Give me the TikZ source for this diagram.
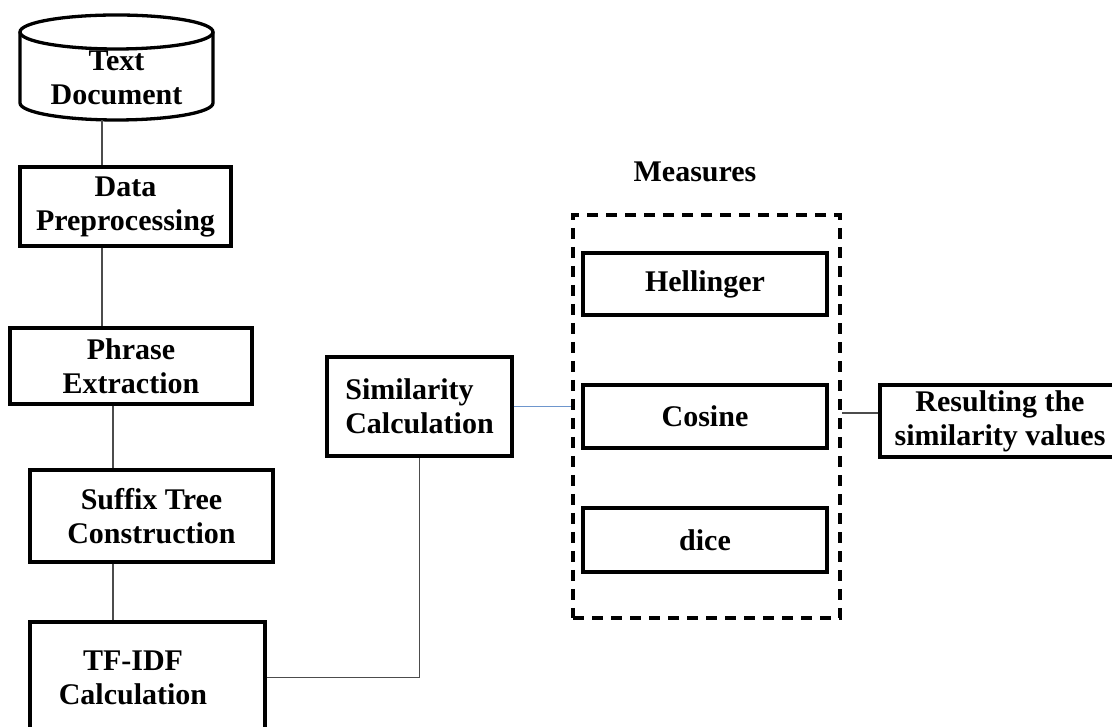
\documentclass[tikz,border=0pt]{standalone}
\usepackage{fontspec}
\setmainfont{Liberation Serif}
\definecolor{linkblue}{RGB}{110,150,205}
\begin{document}
\begin{tikzpicture}[x=1pt,y=1pt,
  txt/.style={font=\bfseries\fontsize{30}{34}\selectfont, align=center, inner sep=0pt},
  box/.style={txt, draw=black, line width=3.3pt},
  link/.style={draw=black!70, line width=1.3pt},
  dashbox/.style={draw=black, line width=3.2pt, dash pattern=on 11pt off 8pt}]
\clip (0,0) rectangle (1112,727);
\fill[white] (0,0) rectangle (1112,727);

% cylinder
\draw[line width=3.3pt, fill=white] (20,695) -- (20,624) arc[start angle=180,end angle=360,x radius=96.5pt,y radius=17pt] -- (213,695);
\draw[line width=3.3pt] (116.5,695) ellipse [x radius=96.5pt, y radius=17pt];
\node[txt] (cyl) at (116.5,649) {Text\\Document};
\coordinate (cylbot) at (102,607);

% left column
\node[box, minimum width=211pt, minimum height=79pt] (data) at (125.5,520.5) {Data\\Preprocessing};
\node[box, minimum width=242pt, minimum height=76pt] (phrase) at (131,361) {Phrase\\Extraction};
\node[box, minimum width=243pt, minimum height=92pt] (suffix) at (151.5,211) {Suffix Tree\\Construction};
\node[box, minimum width=235pt, minimum height=111pt] (tfidf) at (147.5,49.5) {};
\node[txt] (tfidftxt) at (133,49.5) {TF-IDF\\Calculation};

% similarity
\node[box, align=left, minimum width=185pt, minimum height=99pt] (sim) at (419.5,320.5) {Similarity\\Calculation};

% measures
\node[txt] (mlabel) at (695,555) {Measures};
\node[dashbox, minimum width=267pt, minimum height=403pt, inner sep=0pt] (meas) at (706.5,310.5) {};
\node[box, minimum width=244pt, minimum height=62pt] (hell) at (705,443) {Hellinger};
\node[box, minimum width=244pt, minimum height=63pt] (cos) at (705,310.5) {Cosine};
\node[box, minimum width=244pt, minimum height=64pt] (dice) at (705,187) {dice};

% result
\node[box, minimum width=240pt, minimum height=72pt] (res) at (1000,306) {Resulting the\\similarity values};

% connectors
\draw[link] (cylbot) -- (cylbot |- data.north);
\draw[link] ([xshift=-23.5pt]data.south) -- ([xshift=-23.5pt]data.south |- phrase.north);
\draw[link] ([xshift=-18pt]phrase.south) -- ([xshift=-18pt]phrase.south |- suffix.north);
\draw[link] ([xshift=-38.5pt]suffix.south) -- ([xshift=-38.5pt]suffix.south |- tfidf.north);
\draw[link] (tfidf.east) -| (sim.south);
\draw[draw=linkblue, line width=1.3pt] (sim.east) -- (sim.east -| meas.west);
\draw[link] ([yshift=8pt]res.west) -- ([yshift=8pt]res.west -| meas.east);
\end{tikzpicture}
\end{document}
